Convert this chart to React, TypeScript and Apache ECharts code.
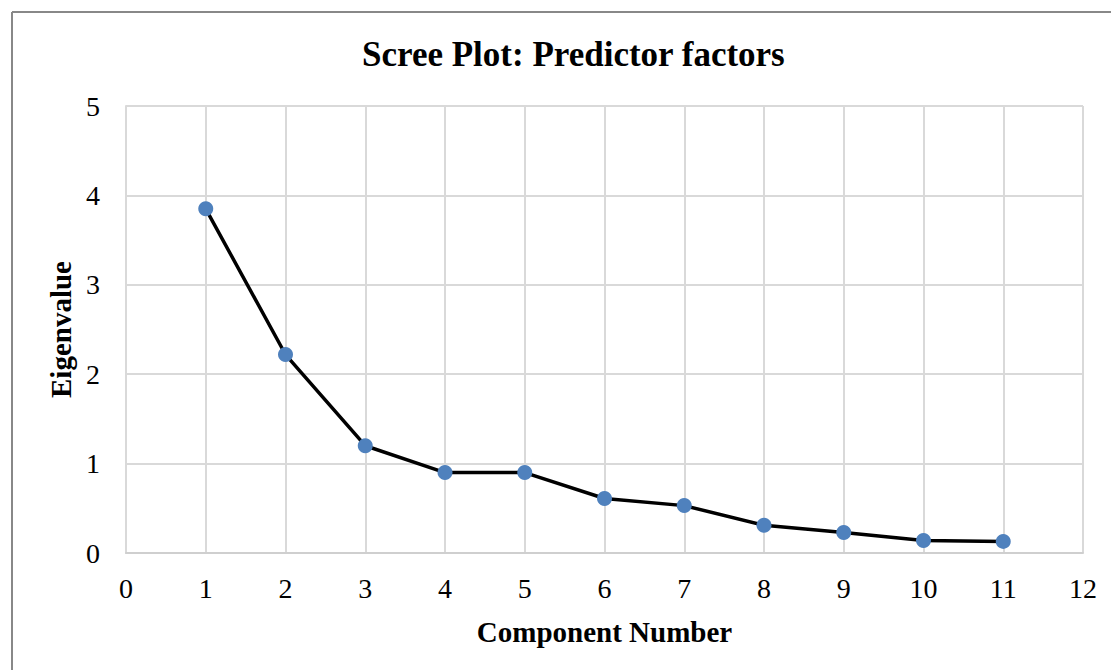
import React, { useEffect, useRef } from "react";
import * as echarts from "echarts";

const components = [1, 2, 3, 4, 5, 6, 7, 8, 9, 10, 11];
const eigenvalues = [3.85, 2.22, 1.2, 0.9, 0.9, 0.61, 0.53, 0.31, 0.23, 0.14, 0.13];
const titleText = "Scree Plot: Predictor factors";
const xAxisName = "Component Number";
const yAxisName = "Eigenvalue";

export default function App() {
  const ref = useRef<HTMLDivElement>(null);
  useEffect(() => {
    if (!ref.current) return;
    const chart = echarts.init(ref.current, null, { renderer: "svg" });
    const font = "'Liberation Serif', 'Times New Roman', serif";
    chart.setOption({
      animation: false,
      backgroundColor: "#ffffff",
      title: {
        text: titleText,
        left: 357,
        top: 32,
        textStyle: { fontFamily: font, fontSize: 35, fontWeight: "bold", color: "#000" },
      },
      graphic: [
        { type: "line", shape: { x1: 12, y1: 12, x2: 12, y2: 670 }, style: { stroke: "#888", lineWidth: 2 } },
        { type: "line", shape: { x1: 12, y1: 12, x2: 1111, y2: 12 }, style: { stroke: "#888", lineWidth: 2 } },
      ],
      grid: { left: 126, right: 28, top: 106, bottom: 117 },
      xAxis: {
        type: "value",
        min: 0,
        max: 12,
        interval: 1,
        name: xAxisName,
        nameLocation: "middle",
        nameGap: 64,
        nameTextStyle: { fontFamily: font, fontSize: 29, fontWeight: "bold", color: "#000" },
        axisLine: { lineStyle: { color: "#cfcfcf", width: 2 } },
        axisTick: { show: false },
        axisLabel: { fontFamily: font, fontSize: 28, color: "#000", margin: 21 },
        splitLine: { show: true, lineStyle: { color: "#d9d9d9", width: 2 } },
      },
      yAxis: {
        type: "value",
        min: 0,
        max: 5,
        interval: 1,
        name: yAxisName,
        nameLocation: "middle",
        nameGap: 49,
        nameRotate: 90,
        nameTextStyle: { fontFamily: font, fontSize: 29, fontWeight: "bold", color: "#000" },
        axisLine: { show: true, lineStyle: { color: "#d9d9d9", width: 2 } },
        axisTick: { show: false },
        axisLabel: { fontFamily: font, fontSize: 28, color: "#000", margin: 26 },
        splitLine: { show: true, lineStyle: { color: "#d9d9d9", width: 2 } },
      },
      series: [
        {
          type: "line",
          data: components.map((c, i) => [c, eigenvalues[i]]),
          symbol: "circle",
          symbolSize: 15,
          lineStyle: { color: "#000", width: 3.5 },
          itemStyle: { color: "#4f81bd" },
        },
      ],
    });
    return () => chart.dispose();
  }, []);
  return (
    <div
      ref={ref}
      style={{ position: "fixed", left: 0, top: 0, width: 1111, height: 670, background: "#fff" }}
    />
  );
}
